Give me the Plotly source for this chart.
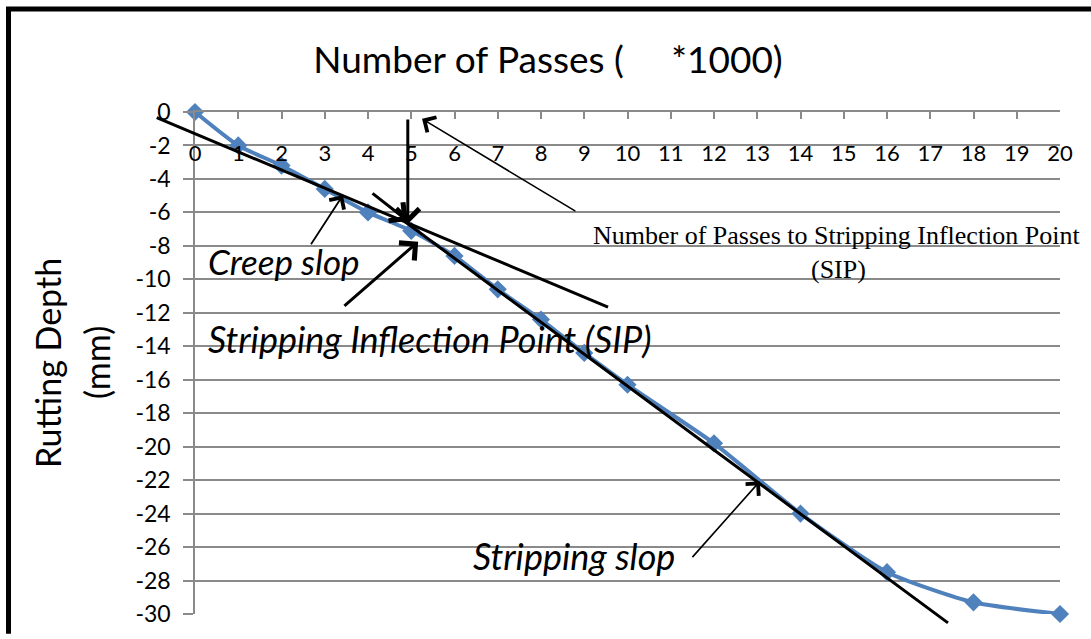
import plotly.graph_objects as go

# ---- data ----
passes = [0, 1, 2, 3, 4, 5, 6, 7, 8, 9, 10, 12, 14, 16, 18, 20]
rut_depth = [0, -2.0, -3.2, -4.6, -6.0, -7.1, -8.6, -10.6, -12.4, -14.4, -16.3,
             -19.8, -24.0, -27.5, -29.3, -30.0]
x_ticks = list(range(0, 21))
y_ticks = list(range(0, -31, -2))
y_tick_text = [str(v) for v in y_ticks]  # plain hyphen minus, as in the original

# fitted slope lines (x0, y0, x1, y1) in data units
creep_line = [-0.92, -0.30, 9.55, -11.66]
strip_line = [4.83, -6.51, 17.41, -30.53]

# arrows: (tail_x, tail_y, head_x, head_y, width)
arrows = [
    (2.66, -7.99, 3.42, -4.97, 1.8),     # creep slop
    (4.92, -0.36, 4.92, -6.69, 3.0),     # vertical to SIP
    (4.07, -4.79, 4.92, -6.51, 3.0),     # upper-left to SIP
    (3.42, -11.66, 5.16, -7.75, 3.0),    # lower-left to SIP
    (8.83, -5.98, 5.25, -0.41, 1.6),     # number of passes
    (11.47, -26.69, 13.06, -22.07, 1.6), # stripping slop
]

BLUE = "#4F81BD"
GRID = "#8a8a8a"
FONT = "Lato"

fig = go.Figure()
fig.add_trace(go.Scatter(
    x=passes, y=rut_depth, mode="lines+markers",
    line=dict(color=BLUE, width=4, shape="spline", smoothing=0.6),
    marker=dict(symbol="diamond", size=14, color=BLUE),
    cliponaxis=False, showlegend=False, hoverinfo="x+y",
))
# invisible trace on the top axis (tick marks along y = 0)
fig.add_trace(go.Scatter(x=[0, 20], y=[0, 0], xaxis="x2", mode="markers",
                         marker=dict(opacity=0), showlegend=False, hoverinfo="skip"))

annotations = []
for (x0, y0, x1, y1) in [creep_line, strip_line]:
    annotations.append(dict(x=x1, y=y1, ax=x0, ay=y0, xref="x", yref="y",
                            axref="x", ayref="y", text="", showarrow=True,
                            arrowhead=0, arrowwidth=3, arrowcolor="black",
                            standoff=0, startstandoff=0))
for (tx, ty, hx, hy, w) in arrows:
    scale = 4.5 if w >= 3 else 3.4
    annotations.append(dict(x=hx, y=hy, ax=tx, ay=ty, xref="x", yref="y",
                            axref="x", ayref="y", text="", showarrow=True,
                            arrowhead=4, arrowwidth=w, arrowsize=scale / w,
                            arrowcolor="black", standoff=0, startstandoff=0))


def px_x(p):
    return (p - 195) / 865.0


def px_y(p):
    return 1 - (p - 112) / 507.0


italic = dict(family=FONT, size=36, color="black", style="italic")
serif = dict(family="Liberation Serif", size=26, color="black")
annotations += [
    dict(text="Creep slop", x=px_x(206), y=px_y(262), xref="paper", yref="paper",
         xanchor="left", yanchor="middle", showarrow=False,
         font=dict(family=FONT, size=35, color="black", style="italic")),
    dict(text="Stripping Inflection Point (SIP)", x=px_x(206), y=px_y(341),
         xref="paper", yref="paper", xanchor="left", yanchor="middle",
         showarrow=False, font=italic),
    dict(text="Stripping slop", x=px_x(471), y=px_y(560), xref="paper", yref="paper",
         xanchor="left", yanchor="middle", showarrow=False, font=italic),
    dict(text="Number of Passes to Stripping Inflection Point", x=px_x(837),
         y=px_y(237), xref="paper", yref="paper", xanchor="center", yanchor="middle",
         showarrow=False, font=serif),
    dict(text="(SIP)", x=px_x(838), y=px_y(271), xref="paper", yref="paper",
         xanchor="center", yanchor="middle", showarrow=False, font=serif),
    dict(text="Rutting Depth", x=px_x(47), y=0.5, xref="paper", yref="paper",
         textangle=-90, xanchor="center", yanchor="middle", showarrow=False,
         font=dict(family=FONT, size=34, color="black")),
    dict(text="(mm)", x=px_x(96), y=0.5, xref="paper", yref="paper",
         textangle=-90, xanchor="center", yanchor="middle", showarrow=False,
         font=dict(family=FONT, size=34, color="black")),
]

shapes = [
    dict(type="line", xref="paper", yref="paper", x0=px_x(8.5), x1=px_x(8.5),
         y0=px_y(6), y1=px_y(639), line=dict(color="black", width=5)),
    dict(type="line", xref="paper", yref="paper", x0=px_x(6), x1=px_x(1091),
         y0=px_y(8), y1=px_y(8), line=dict(color="black", width=5)),
]

fig.update_layout(
    width=1091, height=639,
    margin=dict(l=195, r=31, t=112, b=20),
    paper_bgcolor="white", plot_bgcolor="white",
    font=dict(family=FONT, color="black"),
    title=dict(text="Number of Passes (     *1000)", x=548 / 1091, xref="container",
               xanchor="center", y=1 - 60 / 639, yref="container", yanchor="middle",
               font=dict(family=FONT, size=37, color="black")),
    xaxis=dict(range=[0, 20], side="top", tickvals=x_ticks, ticktext=[str(v) for v in x_ticks],
               showgrid=False, zeroline=False, showline=False, ticks="",
               ticklabelposition="inside", ticklabelstandoff=31,
               ticklabeloverflow="allow", tickfont=dict(size=22, color="black")),
    xaxis2=dict(range=[0, 20], overlaying="x", side="top", anchor="y",
                tickvals=x_ticks, showticklabels=False, ticks="inside", ticklen=7,
                tickcolor=GRID, tickwidth=1.5, showline=True, linecolor=GRID,
                linewidth=1.5, showgrid=False, zeroline=False),
    yaxis=dict(range=[-30, 0], tickvals=y_ticks, ticktext=y_tick_text,
               showgrid=True, gridcolor=GRID,
               gridwidth=1.5, zeroline=False, showline=True, linecolor=GRID,
               linewidth=1.5, ticks="outside", ticklen=10, tickcolor=GRID,
               tickwidth=1.5, ticklabelstandoff=8, tickfont=dict(size=23, color="black")),
    annotations=annotations,
    shapes=shapes,
)

fig.write_html("out.html", config={"displayModeBar": False},
               post_script="document.body.style.margin='0';")
